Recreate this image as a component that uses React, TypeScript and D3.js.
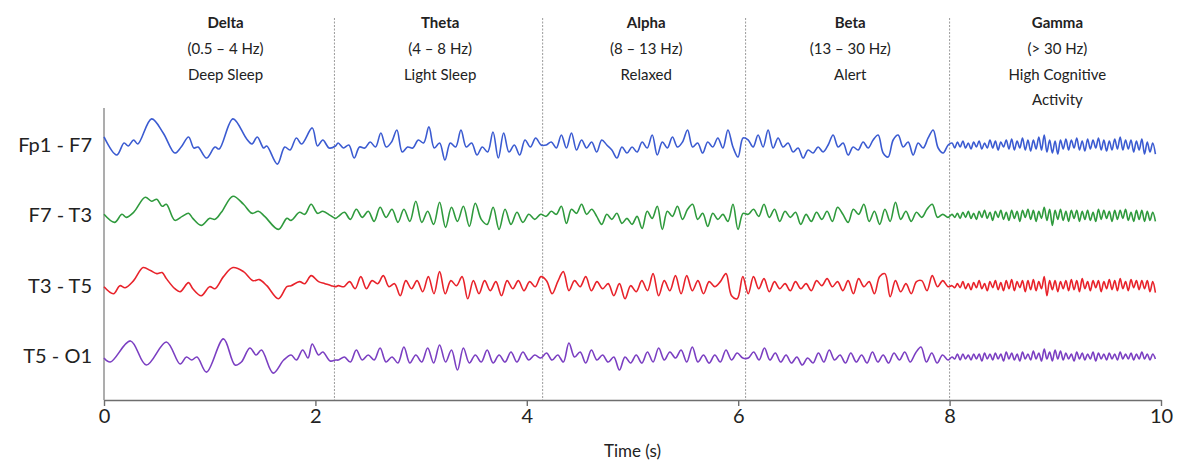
import React, { useEffect, useRef } from 'react';
import * as d3 from 'd3';

// ---------- data ----------
const channels = ['Fp1 - F7', 'F7 - T3', 'T3 - T5', 'T5 - O1'];
const channelColors = ['#3b5bd1', '#2f9a3d', '#e8232b', '#7b3fc2'];
const channelOffsets = [210, 140, 70, 0]; // µV stacking offsets

const bandNames = ['Delta', 'Theta', 'Alpha', 'Beta', 'Gamma'];
const bandRanges = ['(0.5 – 4 Hz)', '(4 – 8 Hz)', '(8 – 13 Hz)', '(13 – 30 Hz)', '(> 30 Hz)'];
const bandStates = [['Deep Sleep'], ['Light Sleep'], ['Relaxed'], ['Alert'], ['High Cognitive', 'Activity']];
const bandLabelTimes = [1.15, 3.18, 5.13, 7.06, 9.02];
const dividerTimes = [2.18, 4.15, 6.07, 8.0];
const bandEdges = [0, 2.19, 4.16, 6.07, 8.01, 9.96];
const xTicks = [0, 2, 4, 6, 8, 10];

// Delta segment: [time (s), amplitude (µV)]
const fp1F7Delta = [[0.0, 8], [0.12, -10], [0.19, 2], [0.23, -1], [0.28, 5], [0.32, 1], [0.45, 26], [0.56, 12], [0.67, -8], [0.73, -2], [0.8, 8], [0.85, -3], [0.89, -2], [0.97, -13], [1.05, -2], [1.09, -4], [1.22, 26], [1.35, 6], [1.4, 1], [1.45, 8], [1.51, -3], [1.54, -1], [1.64, -19], [1.71, -2], [1.76, -5], [1.82, 7], [1.87, 1], [1.97, 17], [2.02, -1], [2.07, 5], [2.13, -3], [2.19, -1]];
const f7T3Delta = [[0.0, 1], [0.1, -7], [0.17, 1], [0.21, -2], [0.28, 3], [0.39, 18], [0.45, 14], [0.5, 16], [0.55, 9], [0.59, 11], [0.67, -5], [0.74, -1], [0.8, 2], [0.84, -3], [0.92, -10], [1.0, -3], [1.05, -4], [1.11, 3], [1.22, 19], [1.32, 11], [1.4, 2], [1.46, 4], [1.52, -1], [1.65, -14], [1.73, -3], [1.77, -5], [1.85, 3], [1.9, 1], [1.96, 11], [2.02, 2], [2.07, 4], [2.14, 0], [2.19, -3]];
const t3T5Delta = [[0.0, -1], [0.09, -8], [0.15, 0], [0.2, -2], [0.28, 5], [0.37, 18], [0.44, 15], [0.5, 12], [0.55, 13], [0.59, 7], [0.67, -3], [0.72, -6], [0.8, 3], [0.84, -3], [0.92, -10], [1.0, -1], [1.05, -3], [1.13, 9], [1.22, 18], [1.32, 14], [1.41, 5], [1.47, 6], [1.54, 0], [1.65, -13], [1.73, -1], [1.77, 0], [1.85, 4], [1.9, 2], [1.96, 10], [2.03, 4], [2.09, 2], [2.15, 0], [2.19, -1]];
const t5O1Delta = [[0.0, -2], [0.06, -6], [0.25, 15], [0.4, -9], [0.59, 14], [0.72, -8], [0.78, -1], [0.83, -4], [0.88, -1], [0.97, -16], [1.13, 17], [1.24, -9], [1.3, -6], [1.38, 8], [1.44, 1], [1.49, 6], [1.6, -17], [1.7, -4], [1.77, 1], [1.82, -4], [1.88, 6], [1.93, -2], [1.97, 12], [2.03, 1], [2.07, 4], [2.14, -5], [2.19, -4]];

// Theta segment (evenly sampled extrema, µV)
const fp1F7Theta = [2, -3, 0, -13, -2, -3, 3, -2, 12, -2, 3, 15, -7, -2, -3, 5, 2, 18, -3, 2, -15, 2, -2, 15, -2, 2, -10, -2, -7, 13, -13, 12, -7, 0, -10, 5, -2, 7, 0];
const f7T3Theta = [-1, 3, -4, 6, -2, 4, -6, 8, -2, 6, -7, 6, -6, 14, -7, 4, -9, 13, -12, 8, -6, 9, -11, 12, -4, -9, 8, -14, 6, -9, 3, -7, 1, -4, 1];
const t3T5Theta = [0, -1, 4, -3, 9, -3, 5, 2, 10, -1, 2, -10, 5, -3, 5, -6, 9, -8, 14, -8, 5, 0, 9, -13, 5, -8, 5, -5, 4, -10, 5, -3, 5, -5, 4, -1, 9];
const t5O1Theta = [-4, -1, -6, 6, -4, 1, -4, 8, -6, -1, -7, 9, -7, 1, -6, 8, -7, 11, -6, 6, -14, 8, -7, 1, -6, 6, -7, 1, -6, 4, -6, 4, -4, 1, -2];

// Alpha segment
const fp1F7Alpha = [0, 3, -3, 10, -3, 12, -5, 5, -3, 3, -7, 5, 0, -5, -13, -2, -8, -2, -7, 3, -3, 10, -10, 3, -3, 8, -2, 3, 15, -2, 2, -8, 3, -2, 7, -3, 15, -2, -12, 7];
const f7T3Alpha = [-1, 4, 1, 9, -8, 6, 2, 11, 1, 6, -1, -9, 1, -4, 2, -8, -3, -9, -1, -13, 4, -3, 9, -14, 4, -1, 9, -4, 6, 11, -4, 2, -11, 2, -4, 1, -6, 11, -14, 2];
const t3T5Alpha = [5, -8, 4, 14, -5, 5, -1, 9, -5, 4, -3, 2, -10, 2, -13, 0, -6, 5, -5, 12, -10, 5, -5, 10, -8, 10, -5, 5, -8, 4, -1, 4, 12, -10, -13, 9];
const t5O1Alpha = [3, -4, 1, -6, 13, -1, 4, -7, 6, -4, 1, -6, -1, -14, -1, -7, 1, -7, 4, -6, 8, -4, 4, -2, 6, -6, 9, -6, 1, -7, 1, -6, 6, -4, 3, -2];

// Beta segment
const fp1F7Beta = [5, -2, 10, -2, 15, -3, 7, -2, 2, -7, -3, -13, -5, -8, -2, -7, 0, 10, -2, 2, -10, -2, -5, 3, -3, 5, 10, -8, -12, 5, 10, -2, 3, -10, 2, -3, 7, 15, -3, -8, 0];
const f7T3Beta = [1, 6, -1, 11, -2, 6, -6, 4, -2, 3, -9, 1, -6, 3, -4, 4, -6, 8, 1, -7, 6, 1, 11, -6, 4, -9, 6, -6, 13, -4, 4, -6, 3, -2, 6, 11, -2, 1, -2];
const t3T5Beta = [-8, 9, -3, 7, -6, 4, -3, 2, -5, 4, -3, 2, -5, 5, 0, 7, -1, 4, -5, 5, -8, 7, -1, 4, -8, 9, 12, -11, 5, -6, 2, -8, 4, 5, -5, 10, -1, 5, -1];
const t5O1Beta = [-2, 4, -4, 8, -4, 3, -6, 1, -7, -1, -9, -2, -7, 3, -6, 6, -4, 1, -7, 3, -6, 1, -7, 4, -6, 1, -7, 3, -4, 4, -6, 3, 9, -6, 3, -7, 1, -4];

// Gamma segment
const fp1F7Gamma = [2, -3, 3, -2, 4, -3, 2, -4, 3, -2, 4, -4, 2, -3, 5, -3, 4, -5, 3, -2, 5, -4, 6, -5, 4, -3, 7, -5, 5, -6, 5, -4, 8, -5, 10, -7, 5, -8, 4, -9, 5, -4, 6, -5, 5, -3, 7, -5, 4, -6, 6, -4, 5, -3, 7, -5, 5, -6, 4, -5, 6, -4, 8, -5, 5, -4, 5, -7, 4, -5, 6, -9, 3, -7, 2, -9];
const f7T3Gamma = [1, -2, 2, -3, 3, -2, 4, -3, 2, -4, 4, -2, 5, -3, 3, -5, 4, -2, 5, -4, 3, -5, 5, -3, 4, -6, 5, -2, 6, -4, 5, -6, 4, -3, 8, -5, 6, -10, 5, -4, 6, -5, 4, -6, 5, -3, 5, -6, 4, -4, 5, -5, 3, -6, 6, -4, 5, -3, 4, -6, 5, -4, 5, -3, 6, -5, 3, -6, 5, -4, 5, -6, 4, -5, 3, -6];
const t3T5Gamma = [0, -2, 2, -2, 4, -3, 2, -4, 3, -2, 5, -3, 2, -5, 4, -2, 5, -4, 3, -5, 5, -3, 6, -5, 4, -2, 5, -6, 5, -4, 6, -5, 4, -3, 9, -10, 5, -4, 5, -6, 4, -3, 5, -5, 6, -4, 5, -6, 7, -3, 4, -5, 5, -2, 5, -6, 4, -3, 6, -4, 5, -5, 7, -3, 4, -5, 6, -2, 5, -4, 5, -3, 5, -6, 4, -7];
const t5O1Gamma = [-1, -3, 2, -4, 2, -3, 1, -4, 2, -3, 2, -5, 3, -3, 2, -4, 3, -3, 2, -5, 4, -3, 3, -4, 2, -5, 4, -3, 2, -4, 5, -3, 3, -5, 7, -3, 4, -5, 6, -3, 5, -4, 3, -3, 2, -5, 4, -3, 3, -4, 2, -3, 4, -5, 3, -3, 2, -4, 3, -3, 2, -4, 4, -3, 2, -3, 3, -4, 2, -3, 4, -3, 2, -4, 2, -3];

const deltaData = [fp1F7Delta, f7T3Delta, t3T5Delta, t5O1Delta];
const bandData = [
  [fp1F7Theta, fp1F7Alpha, fp1F7Beta, fp1F7Gamma],
  [f7T3Theta, f7T3Alpha, f7T3Beta, f7T3Gamma],
  [t3T5Theta, t3T5Alpha, t3T5Beta, t3T5Gamma],
  [t5O1Theta, t5O1Alpha, t5O1Beta, t5O1Gamma],
];

function buildSeries(c: number): [number, number][] {
  const pts: [number, number][] = deltaData[c].map((d) => [d[0], d[1]] as [number, number]);
  bandData[c].forEach((vals, b) => {
    const t0 = bandEdges[b + 1];
    const t1 = bandEdges[b + 2];
    const step = (t1 - t0) / vals.length;
    vals.forEach((v, i) => pts.push([t0 + (i + 0.5) * step, v]));
  });
  return pts;
}

const W = 1184;
const H = 463;
const FONT = 'Lato, "Open Sans", "Noto Sans", sans-serif';

export default function App() {
  const axisRef = useRef<SVGGElement>(null);
  const x = d3.scaleLinear().domain([0, 10]).range([104, 1161]);
  const y = d3.scaleLinear().domain([0, 210]).range([356, 145]);
  const axisY = 400;

  useEffect(() => {
    if (!axisRef.current) return;
    const g = d3.select(axisRef.current);
    g.selectAll('*').remove();
    g.call(d3.axisBottom(x).tickValues(xTicks).tickSize(6).tickSizeOuter(0).tickPadding(3).tickFormat(d3.format('d')) as any);
    g.select('.domain').attr('stroke', '#6e6e6e').attr('stroke-width', 1.4);
    g.selectAll('.tick line').attr('stroke', '#6e6e6e').attr('stroke-width', 1.4);
    g.selectAll('.tick text').attr('fill', '#222').style('font-size', '20px').style('font-family', FONT);
  }, []);

  return (
    <svg width={W} height={H} style={{ position: 'absolute', left: 0, top: 0, background: '#fff' }}>
      {/* dividers */}
      {dividerTimes.map((t, i) => (
        <line key={'d' + i} x1={x(t)} x2={x(t)} y1={18} y2={axisY} stroke="#9a9a9a" strokeWidth={1} strokeDasharray="2,1.5" />
      ))}
      {/* left axis line */}
      <line x1={x(0)} x2={x(0)} y1={108} y2={axisY} stroke="#8a8a8a" strokeWidth={1.4} />
      {/* band headers */}
      {bandNames.map((name, i) => {
        const cx = x(bandLabelTimes[i]);
        return (
          <g key={'h' + i} fontFamily={FONT} fontSize={15} fill="#222" textAnchor="middle">
            <text x={cx} y={28} fontWeight={700}>{name}</text>
            <text x={cx} y={54}>{bandRanges[i]}</text>
            {bandStates[i].map((s, j) => (
              <text key={j} x={cx} y={80 + j * 25}>{s}</text>
            ))}
          </g>
        );
      })}
      {/* traces */}
      {channels.map((name, c) => {
        const pts = buildSeries(c);
        const line = d3
          .line<[number, number]>()
          .curve(d3.curveCatmullRom.alpha(0.5))
          .x((d) => x(d[0]))
          .y((d) => y(d[1] + channelOffsets[c]));
        return (
          <g key={name}>
            <path d={line(pts) || ''} fill="none" stroke={channelColors[c]} strokeWidth={1.6} strokeLinejoin="round" />
            <text x={92} y={y(channelOffsets[c])} dy="0.35em" textAnchor="end" fontFamily={FONT} fontSize={20} fill="#222">
              {name}
            </text>
          </g>
        );
      })}
      {/* x axis */}
      <g ref={axisRef} transform={`translate(0,${axisY})`} />
      <text x={(x(0) + x(10)) / 2} y={457} textAnchor="middle" fontFamily={FONT} fontSize={17} fill="#222">
        Time (s)
      </text>
    </svg>
  );
}
